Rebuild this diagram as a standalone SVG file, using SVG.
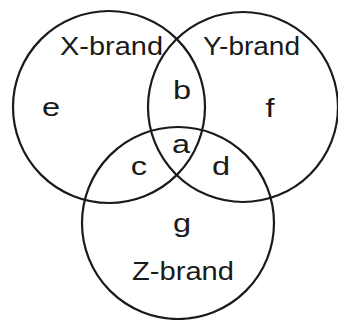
<svg xmlns="http://www.w3.org/2000/svg" width="338" height="320" viewBox="0 0 338 320">
<style>
.c{fill:none;stroke:#1a1a1a;stroke-width:2.2}
.t{font-family:"Liberation Sans",Arial,sans-serif;font-size:26px;fill:#1a1a1a}
.m{text-anchor:middle}
</style>
<rect width="338" height="320" fill="#fff"/>
<g id="x-brand"><circle class="c" cx="109" cy="107" r="96"/><text class="t" x="60" y="55" textLength="103" lengthAdjust="spacingAndGlyphs">X-brand</text></g>
<g id="y-brand"><circle class="c" cx="243" cy="107" r="95"/><text class="t" x="203" y="55" textLength="97" lengthAdjust="spacingAndGlyphs">Y-brand</text></g>
<g id="z-brand"><circle class="c" cx="178" cy="223" r="96"/><text class="t" x="132" y="280" textLength="102" lengthAdjust="spacingAndGlyphs">Z-brand</text></g>
<g id="regions">
<text class="t m" transform="translate(51,116) scale(1.25,1)">e</text>
<text class="t m" transform="translate(182,99) scale(1.25,1)">b</text>
<text class="t m" transform="translate(270,117) scale(1.25,1)">f</text>
<text class="t m" transform="translate(181,153) scale(1.25,1)">a</text>
<text class="t m" transform="translate(139,175) scale(1.25,1)">c</text>
<text class="t m" transform="translate(221,175) scale(1.25,1)">d</text>
<text class="t m" transform="translate(182,232) scale(1.25,1)">g</text>
</g>
<g id="connectors"/>
</svg>
